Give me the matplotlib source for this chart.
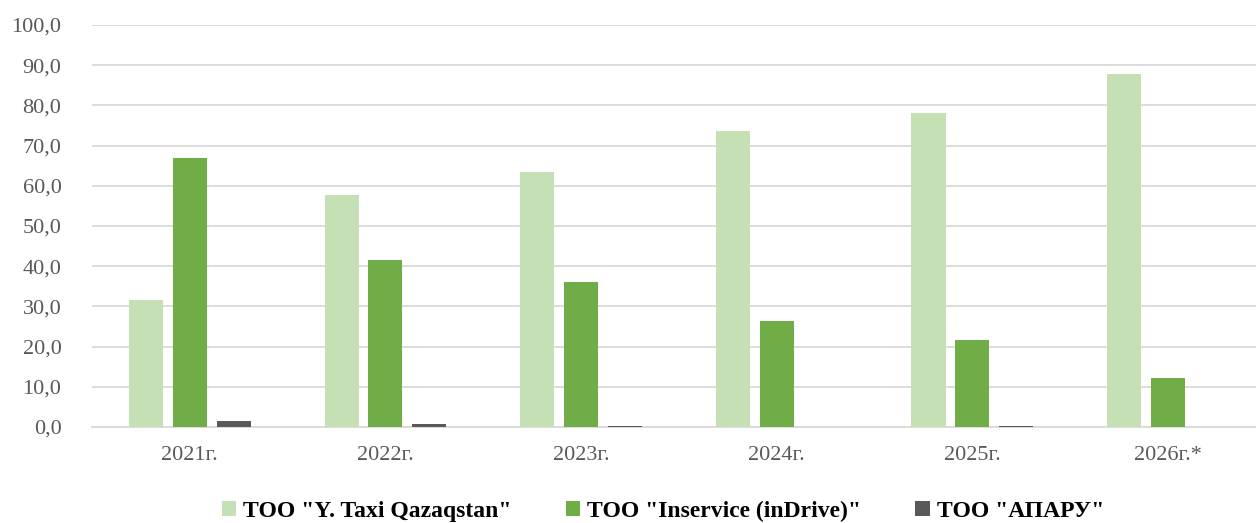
import matplotlib
matplotlib.use("Agg")
import matplotlib.pyplot as plt
import numpy as np

categories = ["2021г.", "2022г.", "2023г.", "2024г.", "2025г.", "2026г.*"]
yandex = [31.6, 57.7, 63.4, 73.6, 78.1, 87.8]
indrive = [66.9, 41.5, 36.1, 26.4, 21.6, 12.2]
aparu = [1.5, 0.8, 0.3, 0.0, 0.2, 0.0]
series_names = ['ТОО "Y. Taxi Qazaqstan"', 'ТОО "Inservice (inDrive)"', 'ТОО "АПАРУ"']
yticks = [0, 10, 20, 30, 40, 50, 60, 70, 80, 90, 100]

plt.rcParams['font.family'] = ['Liberation Serif', 'DejaVu Serif']

fig = plt.figure(figsize=(12.56, 5.23), dpi=100)
ax = fig.add_axes([92/1256, 1 - 427/523, 1 - 92/1256, (427 - 25)/523])

x = np.arange(len(categories))
w = 0.174
off = 0.224
colors = ["#C5E0B4", "#70AD47", "#595959"]
for i, (vals, c, name) in enumerate(zip([yandex, indrive, aparu], colors, series_names)):
    ax.bar(x + (i - 1) * off, vals, width=w, color=c, label=name, zorder=3)

ax.set_ylim(0, 100)
ax.set_xlim(-0.5, 5.45)
ax.set_yticks(yticks)
ax.set_yticklabels([f"{v:.1f}".replace(".", ",") for v in yticks])
ax.yaxis.grid(True, color="#D9D9D9", linewidth=1.3, zorder=0)
ax.set_xticks(x)
ax.set_xticklabels(categories)
for s in ["top", "right", "left"]:
    ax.spines[s].set_visible(False)
ax.spines["bottom"].set_color("#D9D9D9")
ax.spines["bottom"].set_linewidth(1.3)
ax.tick_params(axis="both", length=0, labelsize=16, labelcolor="#595959")
ax.tick_params(axis="y", pad=22)
ax.tick_params(axis="x", pad=14)

leg = fig.legend(loc="center", bbox_to_anchor=(663/1256, 1 - 511/523), ncol=3, frameon=False,
                 prop={"weight": "bold", "size": 17}, handlelength=0.6, handleheight=0.6,
                 handletextpad=0.3, columnspacing=2.3)
plt.savefig("out.png", dpi=100)
